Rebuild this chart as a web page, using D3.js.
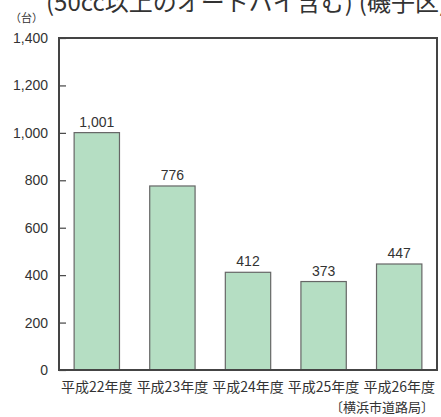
<!DOCTYPE html>
<html>
<head>
<meta charset="utf-8">
<script src="https://d3js.org/d3.v7.min.js"></script>
<style>
  body { margin: 0; background: #fff; }
  svg text { font-family: "Noto Sans CJK JP", "Liberation Sans", sans-serif; fill: #333; }
</style>
</head>
<body>
<div id="chart"></div>
<script>
var categories = ["平成22年度", "平成23年度", "平成24年度", "平成25年度", "平成26年度"];
var values = [1001, 776, 412, 373, 447];
var yTicks = [0, 200, 400, 600, 800, 1000, 1200, 1400];
var titleParts = ["(50cc以上のオートバイ含む)", "(磯子区)"];
var unitText = "（台）";
var sourceText = "〔横浜市道路局〕";

var width = 441, height = 417;
var plotLeft = 59, plotRight = 437, plotTop = 38, plotBottom = 370;

var svg = d3.select("#chart").append("svg")
    .attr("width", width)
    .attr("height", height);

var x = d3.scaleBand()
    .domain(categories)
    .range([plotLeft, plotRight])
    .paddingInner(0.4)
    .paddingOuter(0.2);

var y = d3.scaleLinear()
    .domain([0, 1400])
    .range([plotBottom, plotTop]);

// title (clipped at top in the original)
var title = svg.append("text")
    .attr("x", 46)
    .attr("y", 11)
    .attr("font-size", 24)
    .attr("fill", "#444");
title.append("tspan").text(titleParts[0]);
title.append("tspan").attr("dx", 6).text(titleParts[1]);

svg.append("text")
    .attr("x", 10)
    .attr("y", 22)
    .attr("font-size", 11)
    .text(unitText);

// bars
svg.selectAll("rect.bar")
    .data(values)
    .enter().append("rect")
    .attr("class", "bar")
    .attr("x", function(d, i) { return x(categories[i]); })
    .attr("y", function(d) { return y(d); })
    .attr("width", x.bandwidth())
    .attr("height", function(d) { return y(0) - y(d); })
    .attr("fill", "#b5dec3")
    .attr("stroke", "#666")
    .attr("stroke-width", 1.2);

// value labels
svg.selectAll("text.val")
    .data(values)
    .enter().append("text")
    .attr("class", "val")
    .attr("x", function(d, i) { return x(categories[i]) + x.bandwidth() / 2; })
    .attr("y", function(d) { return y(d) - 6; })
    .attr("text-anchor", "middle")
    .attr("font-size", 14)
    .style("font-family", "Liberation Sans")
    .text(function(d) { return d3.format(",")(d); });

// y axis with inward ticks
var yAxis = d3.axisRight(y)
    .tickValues(yTicks)
    .tickSize(7)
    .tickFormat("");

var gy = svg.append("g")
    .attr("transform", "translate(" + plotLeft + ",0)")
    .call(yAxis);
gy.select(".domain").remove();
gy.selectAll("line").attr("stroke", "#444").attr("stroke-width", 1.2);

svg.selectAll("text.ytick")
    .data(yTicks)
    .enter().append("text")
    .attr("class", "ytick")
    .attr("x", 48)
    .attr("y", function(d) { return y(d) + 5; })
    .attr("text-anchor", "end")
    .attr("font-size", 14)
    .style("font-family", "Liberation Sans")
    .text(function(d) { return d3.format(",")(d); });

// frame
svg.append("rect")
    .attr("x", plotLeft)
    .attr("y", plotTop)
    .attr("width", plotRight - plotLeft)
    .attr("height", plotBottom - plotTop)
    .attr("fill", "none")
    .attr("stroke", "#444")
    .attr("stroke-width", 2);

// category labels
svg.selectAll("text.cat")
    .data(categories)
    .enter().append("text")
    .attr("class", "cat")
    .attr("x", function(d) { return x(d) + x.bandwidth() / 2; })
    .attr("y", 392)
    .attr("text-anchor", "middle")
    .attr("font-size", 14)
    .text(function(d) { return d; });

svg.append("text")
    .attr("x", 434)
    .attr("y", 412)
    .attr("text-anchor", "end")
    .attr("font-size", 13)
    .text(sourceText);
</script>
</body>
</html>
